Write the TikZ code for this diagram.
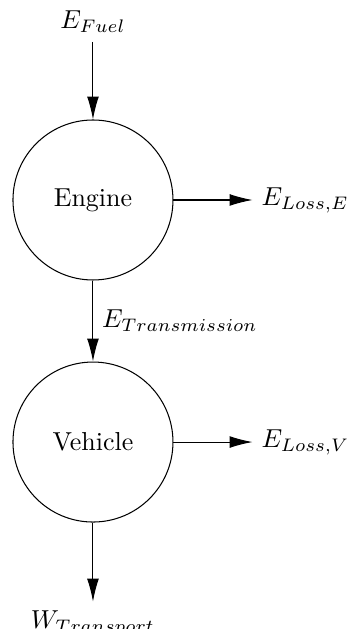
\documentclass[tikz,border=0pt]{standalone}
\usetikzlibrary{positioning,arrows.meta}

\begin{document}
\begin{tikzpicture}[>={Latex[length=3.1mm,width=1.6mm]}, node distance=1.07cm]
    \useasboundingbox (0,0) rectangle (4.763,-8.511);
    \tikzset{block/.style={draw, circle, minimum size=2.165cm}}

    \node (engine) [block] at (1.258,-2.706) {Engine};
    \node (vehicle) [block, below=1.096cm of engine] {Vehicle};

    \node (fuel) [above=1.05cm of engine] {$E_{Fuel}$};
    \node (losse) [right=of engine] {$E_{Loss,E}$};
    \node (lossv) [right=of vehicle] {$E_{Loss,V}$};
    \node (transport) [below=of vehicle] {$W_{Transport}$};

    \draw[->] (fuel) -- (engine);
    \draw[->] (engine) -- (losse);
    \draw[->] (engine) -- node[right] {$E_{Transmission}$} (vehicle);
    \draw[->] (vehicle) -- (lossv);
    \draw[->] (vehicle) -- (transport);
\end{tikzpicture}
\end{document}
